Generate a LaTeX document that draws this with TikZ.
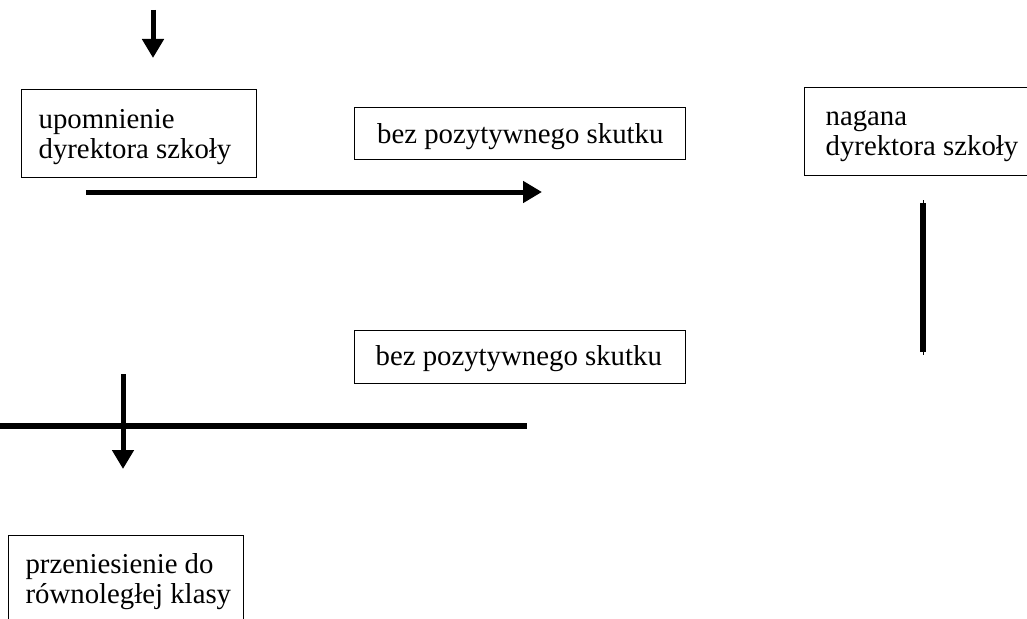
\documentclass[tikz,border=0pt]{standalone}
\usepackage{fontspec}
\setmainfont{Liberation Serif}
\usetikzlibrary{arrows.meta}
% #1 box width, #2 left padding, #3 lines of the label
\newcommand\boxlines[3]{\makebox[#1][l]{\hspace*{#2}\begin{tabular}[t]{@{}l@{}}#3\end{tabular}}}
\begin{document}
\begin{tikzpicture}[x=1pt,y=-1pt,
  box/.style={draw, line width=1.2pt, anchor=north west,
    font=\fontsize{28.8}{29.5}\selectfont, inner sep=0pt},
  flow/.style={line width=5pt, -{Triangle[length=19pt,width=21pt]}},
  bar/.style={line width=6pt},
  hair/.style={line width=0.8pt}]
\useasboundingbox (0,0) rectangle (1027,618);
\clip (0,0) rectangle (1027,618);

% boxes: text height = first baseline below the top edge
\node[box, text height=39pt, text depth=49pt]
  (upom) at (21,89) {\boxlines{235pt}{17pt}{upomnienie\\dyrektora szkoły}};
\node[box, text height=36.5pt, text depth=16pt]
  (bez1) at (354,106.5) {\boxlines{331pt}{22.5pt}{bez pozytywnego skutku}};
\node[box, text height=38pt, text depth=50pt]
  (nagana) at (804,87) {\boxlines{240pt}{21pt}{nagana\\dyrektora szkoły}};
\node[box, text height=35pt, text depth=18pt]
  (bez2) at (354,330) {\boxlines{331pt}{21pt}{bez pozytywnego skutku}};
\node[box, text height=38pt, text depth=62pt]
  (przen) at (8,535) {\boxlines{235pt}{17pt}{przeniesienie do\\równoległej klasy}};

% free ends of the connectors
\coordinate (inS) at (153,10);
\coordinate (inE) at (153,58);
\coordinate (hS) at (86,192);
\coordinate (hE) at (542,192);
\coordinate (vS) at (923,203);
\coordinate (vE) at (923,352);
\coordinate (bS) at (0,426);
\coordinate (bE) at (527,426);
\coordinate (dS) at (123,374);
\coordinate (dE) at (123,469);

% connectors
\draw[flow] (inS) -- (inE);
\draw[flow] (hS) -- (hE);
\draw[hair] (923,200) -- (923,355);
\draw[bar] (vS) -- (vE);
\draw[bar] (bS) -- (bE);
\draw[flow] (dS) -- (dE);
\end{tikzpicture}
\end{document}
